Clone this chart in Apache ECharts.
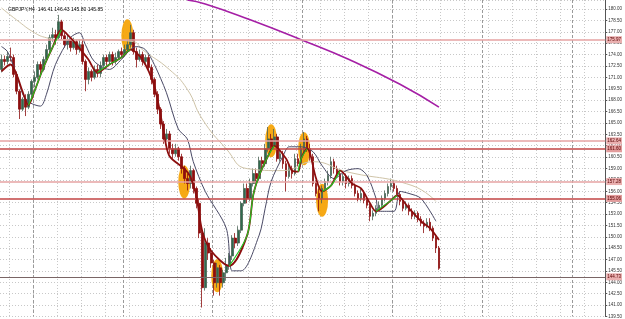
<!DOCTYPE html>
<html><head><meta charset="utf-8">
<script src="https://cdn.jsdelivr.net/npm/echarts@6/dist/echarts.min.js"></script>
<style>html,body{margin:0;padding:0;background:#fff}#c{width:625px;height:319px}</style>
</head><body><div id="c"></div>
<script>
const titleText = 'GBPJPY,H4  146.41 146.43 145.80 145.85';
const slotCount = 202;
const opens = [
172.05,173.36,173.10,173.75,173.62,171.40,169.18,166.82,168.13,167.08,
168.78,170.48,171.01,172.70,172.05,173.36,174.67,176.23,176.63,176.23,
178.32,176.49,175.32,175.97,174.93,175.71,174.67,175.32,173.10,170.74,
171.79,171.01,172.05,171.53,172.57,173.62,173.10,174.01,173.10,173.62,
174.40,174.01,174.67,175.32,176.89,174.40,173.36,174.01,173.10,173.62,
172.31,170.74,168.78,166.82,164.86,162.90,163.56,161.60,160.94,161.60,
160.55,158.98,157.67,157.02,158.72,156.37,154.41,150.49,143.30,149.18,
147.87,146.56,143.95,145.91,143.95,145.26,146.17,147.48,149.83,149.18,
150.88,154.41,156.37,155.06,157.02,158.33,157.67,160.03,159.63,161.60,
162.90,161.86,163.16,160.29,160.94,159.63,157.94,158.98,158.33,160.29,
159.63,161.60,162.90,161.60,160.55,157.02,155.71,155.06,156.37,157.28,
158.07,159.90,158.98,158.33,157.28,157.94,157.02,157.67,156.76,155.71,
155.06,155.71,154.80,154.15,152.71,153.10,153.75,154.15,155.06,155.71,
156.63,157.02,156.37,155.58,154.67,153.75,154.15,153.36,152.71,153.10,
152.32,151.79,151.40,151.92,151.14,149.83,148.53];
const closes = [
173.36,173.10,173.75,173.62,171.40,169.18,166.82,168.13,167.08,168.78,
170.48,171.01,172.70,172.05,173.36,174.67,176.23,176.63,176.23,178.32,
176.49,175.32,175.97,174.93,175.71,174.67,175.32,173.10,170.74,171.79,
171.01,172.05,171.53,172.57,173.62,173.10,174.01,173.10,173.62,174.40,
174.01,174.67,175.32,176.89,174.40,173.36,174.01,173.10,173.62,172.31,
170.74,168.78,166.82,164.86,162.90,163.56,161.60,160.94,161.60,160.55,
158.98,157.67,157.02,158.72,156.37,154.41,150.49,143.30,149.18,147.87,
146.56,143.95,145.91,143.95,145.26,146.17,147.48,149.83,149.18,150.88,
154.41,156.37,155.06,157.02,158.33,157.67,160.03,159.63,161.60,162.90,
161.86,163.16,160.29,160.94,159.63,157.94,158.98,158.33,160.29,159.63,
161.60,162.90,161.60,160.55,157.02,155.71,155.06,156.37,157.28,158.07,
159.90,158.98,158.33,157.28,157.94,157.02,157.67,156.76,155.71,155.06,
155.71,154.80,154.15,152.71,153.10,153.75,154.15,155.06,155.71,156.63,
157.02,156.37,155.58,154.67,153.75,154.15,153.36,152.71,153.10,152.32,
151.79,151.40,151.92,151.14,149.83,148.53,145.85];
const highs = [
174.01,173.88,174.40,174.93,174.01,171.79,169.44,168.39,168.78,169.18,
170.74,171.79,173.10,173.10,173.75,175.32,176.63,177.54,177.28,179.24,
178.59,176.89,176.63,176.23,176.23,175.97,175.97,175.97,173.36,172.31,
172.05,172.57,172.70,173.10,174.01,174.01,174.40,174.40,174.27,174.67,
174.93,175.32,175.97,177.93,177.28,174.93,174.67,174.40,174.01,174.01,
172.70,171.01,169.18,167.08,165.25,164.21,163.95,162.25,162.25,161.86,
160.94,159.37,158.33,159.37,158.98,156.63,155.06,150.88,151.14,149.83,
148.53,146.96,146.56,146.30,145.65,147.22,147.87,150.22,150.49,151.40,
154.67,157.02,157.02,157.67,158.98,158.98,160.55,160.55,162.25,164.47,
163.56,164.21,163.56,161.60,161.33,160.03,159.63,159.37,160.94,160.94,
162.25,163.82,163.29,162.25,160.94,157.41,156.37,156.76,157.67,158.72,
160.55,160.29,159.37,158.72,158.33,158.33,158.07,158.07,157.02,156.11,
156.37,156.11,155.32,154.41,153.49,154.15,154.67,155.45,156.11,157.02,
157.67,157.41,156.76,155.98,155.06,154.67,154.41,153.75,153.49,153.36,
152.71,152.18,152.45,152.45,151.40,150.09,148.79];
const lows = [
171.66,172.57,172.70,173.10,171.01,168.78,165.52,166.56,165.91,166.82,
168.39,169.70,170.74,171.40,171.79,173.10,174.27,175.71,175.32,175.97,
175.97,174.93,174.67,174.40,174.67,174.01,174.27,172.70,169.18,170.09,
170.48,170.74,171.01,171.01,172.31,172.57,172.70,172.57,172.70,173.36,
173.62,173.75,174.27,174.93,174.01,172.31,173.10,172.57,172.70,171.79,
170.09,168.39,166.17,164.21,162.25,162.64,160.94,160.29,160.55,160.03,
158.33,157.02,156.11,156.37,155.71,153.75,149.83,140.68,142.91,146.96,
145.91,142.25,143.30,142.25,143.30,144.21,145.65,146.96,148.53,148.79,
150.49,154.02,154.41,154.67,156.63,157.02,157.41,158.98,159.24,161.20,
161.33,161.60,159.90,159.90,158.98,155.98,157.67,157.67,158.07,159.24,
159.24,161.20,161.20,160.03,156.63,155.32,153.36,154.41,155.98,156.76,
157.67,158.33,157.94,156.76,156.76,156.37,156.63,156.37,155.32,154.67,
154.67,154.41,153.75,152.05,152.18,152.71,153.49,153.75,154.67,155.32,
156.11,155.98,155.32,154.15,153.36,153.49,152.84,152.32,152.32,151.92,
151.40,150.49,151.14,150.75,149.44,147.87,145.65];

const fastIdx = [0,3,5,7,9, 11,14,17,20, 23,25,29,32, 36,40,42,43, 47,51,54,56,61,63,65,67,70,76, 82,84,86,89,91, 95,97,99, 100,102, 103,105,107, 110,113, 117,120,123,125, 130,132, 136,140,143,146];
const fastVal = [171.79,172.70,171.40,169.18,167.35, 169.18,172.31,174.93,177.28, 176.23,175.32,173.36,171.66, 172.70,173.62,174.40,174.67, 173.36,169.83,164.21,160.68,158.98,157.94,155.45,150.75,148.13,146.17, 150.22,155.45,158.07,160.68,161.99, 160.29,158.72,158.59, 160.29,161.60, 160.94,157.67,155.98, 156.76,158.72, 157.02,156.37,154.41,153.36, 154.80,155.45, 153.75,152.05,151.14,149.57];
const fastUp = [0,0,0,0,1, 1,1,1,0, 0,0,0,1, 1,1,1,0, 0,0,0,0,0,0,0,0,0,1, 1,1,1,1,0, 0,0,1, 1,0, 0,0,1, 1,0, 0,0,0,1, 1,0, 0,0,0,0];

const navyIdx = [0,2,5,8,13,15,18,23,26,28,31,36,40,43,45,48,51,55,59,62,64,68,75,77,80,86,88,90,94,96,100,104,107,111,115,119,122,125,126,131,133,136,140,145];
const navyVal = [175.06,174.40,171.40,168.13,167.22,168.78,172.70,176.23,176.89,175.32,173.10,172.05,173.36,174.67,175.06,174.67,172.70,169.04,164.21,162.90,159.90,155.98,151.14,145.52,145.52,150.22,153.75,157.28,160.68,161.86,161.86,161.20,159.37,157.67,158.72,158.98,158.07,155.06,153.36,153.36,155.98,155.71,155.06,152.05];

const tanIdx = [0,5,11,15,20,33,44,47,56,62,67,75,82,94,104,115,137,145];
const tanVal = [180.15,178.59,176.89,176.23,175.97,175.97,175.71,174.67,172.05,169.44,165.52,161.60,158.98,158.72,159.90,158.59,156.76,154.67];

const maIdx = [62,68,83,100,116,133,146];
const maVal = [181.20,180.68,178.59,175.97,173.36,170.09,167.08];

const ellIdx = [42,61,72,90,101,107];
const ellVal = [176.49,157.22,144.87,162.64,161.60,154.80];

const levelVals = [175.97,162.64,161.60,157.28,155.06,144.73];
const levelKinds = ['light','light','dark','light','dark','gray'];

const sepIdx = [11,41,71,101,131,161,191];

// ---- build ----
const categories = [];
for (let i = 0; i < slotCount; i++) categories.push(String(i));
const candleData = opens.map((o, i) => [o, closes[i], lows[i], highs[i]]);
const pairs = (idx, val) => idx.map((x, k) => [x, val[k]]);
const fastAll = pairs(fastIdx, fastVal);
const fastGreen = fastIdx.map((x, k) => (fastUp[k] || (k > 0 && fastUp[k-1])) ? [x, fastVal[k]] : [x, '-']);
const levelColor = {light: '#e6a3a3', dark: '#c24545', gray: '#7a6565'};
const levelWidth = {light: 1.5, dark: 1.5, gray: 1.2};
const levelLabelBg = {light: '#eab0b0', dark: '#e39c9c', gray: '#eab0b0'};
const lastClose = closes[closes.length - 1];

const chart = echarts.init(document.getElementById('c'), null, {renderer: 'canvas'});
const fontFam = 'Liberation Sans, Arial, sans-serif';
chart.setOption({
  animation: false,
  backgroundColor: '#ffffff',
  title: {text: titleText, left: 3, top: 2, textStyle: {fontSize: 5, fontWeight: 'normal', color: '#000', fontFamily: fontFam}},
  grid: {left: 0, right: 18, top: 0, bottom: 0, containLabel: false},
  xAxis: [
    {type: 'category', data: categories, boundaryGap: true,
     axisLine: {show: false}, axisTick: {show: false}, axisLabel: {show: false},
     splitLine: {show: true, interval: (i) => i % 8 === 3, lineStyle: {color: '#c8c8c8', type: [1, 2], width: 1}}},
    {type: 'category', data: categories, boundaryGap: true,
     axisLine: {show: false}, axisTick: {show: false}, axisLabel: {show: false},
     splitLine: {show: true, interval: (i) => sepIdx.indexOf(i) >= 0, lineStyle: {color: '#9a9a9a', type: [3, 2], width: 1}}}
  ],
  yAxis: {type: 'value', position: 'right', min: 139.5, max: 181.2, interval: 1.5, scale: true,
    axisLine: {show: true, lineStyle: {color: '#555', width: 1}},
    axisTick: {show: true, length: 2, lineStyle: {color: '#555'}},
    axisLabel: {fontSize: 4.5, color: '#333', margin: 3, fontFamily: fontFam, showMaxLabel: false,
      formatter: (v) => v.toFixed(2)},
    splitLine: {show: true, lineStyle: {color: '#c8c8c8', type: [1, 2], width: 1}}},
  series: [
    {type: 'scatter', name: 'marks', data: pairs(ellIdx, ellVal), symbol: 'circle', symbolSize: [12, 33],
     itemStyle: {color: '#f6a40a', opacity: 0.95}, z: 1, silent: true},
    {type: 'candlestick', name: 'price', data: candleData, barWidth: 2.2, z: 2,
     itemStyle: {color: '#2f6b4d', color0: '#8c0e0e', borderColor: '#4a6356', borderColor0: '#8c0e0e', borderWidth: 0.8},
     markLine: {silent: true, symbol: 'none', animation: false,
       data: levelVals.map((v, k) => ({yAxis: v,
         lineStyle: {color: levelColor[levelKinds[k]], width: levelWidth[levelKinds[k]], type: 'solid', opacity: 1},
         label: {show: true, position: 'end', distance: 1, formatter: v.toFixed(2), fontSize: 4.5, fontFamily: fontFam,
           color: '#5a0000', backgroundColor: levelLabelBg[levelKinds[k]], padding: [1, 1]}})).concat([
         {yAxis: lastClose, lineStyle: {opacity: 0},
          label: {show: true, position: 'end', distance: 1, formatter: lastClose.toFixed(2), fontSize: 4.5, fontFamily: fontFam,
            color: '#fff', backgroundColor: '#000', padding: [1, 1]}}])}},
    {type: 'line', name: 'ma200', data: pairs(maIdx, maVal), smooth: true, showSymbol: false, z: 3,
     lineStyle: {color: '#a51fa5', width: 1.6}},
    {type: 'line', name: 'slow', data: pairs(tanIdx, tanVal), smooth: true, showSymbol: false, z: 3,
     lineStyle: {color: '#cfc4a8', width: 1}},
    {type: 'line', name: 'band', data: pairs(navyIdx, navyVal), smooth: 0.3, showSymbol: false, z: 4,
     lineStyle: {color: '#4a4a66', width: 1}},
    {type: 'line', name: 'fastDown', data: fastAll, smooth: 0.3, showSymbol: false, z: 5,
     lineStyle: {color: '#8c0e0e', width: 1.8}},
    {type: 'line', name: 'fastUp', data: fastGreen, smooth: 0.3, showSymbol: false, connectNulls: false, z: 6,
     lineStyle: {color: '#22c322', width: 1.2}}
  ]
});
</script></body></html>
